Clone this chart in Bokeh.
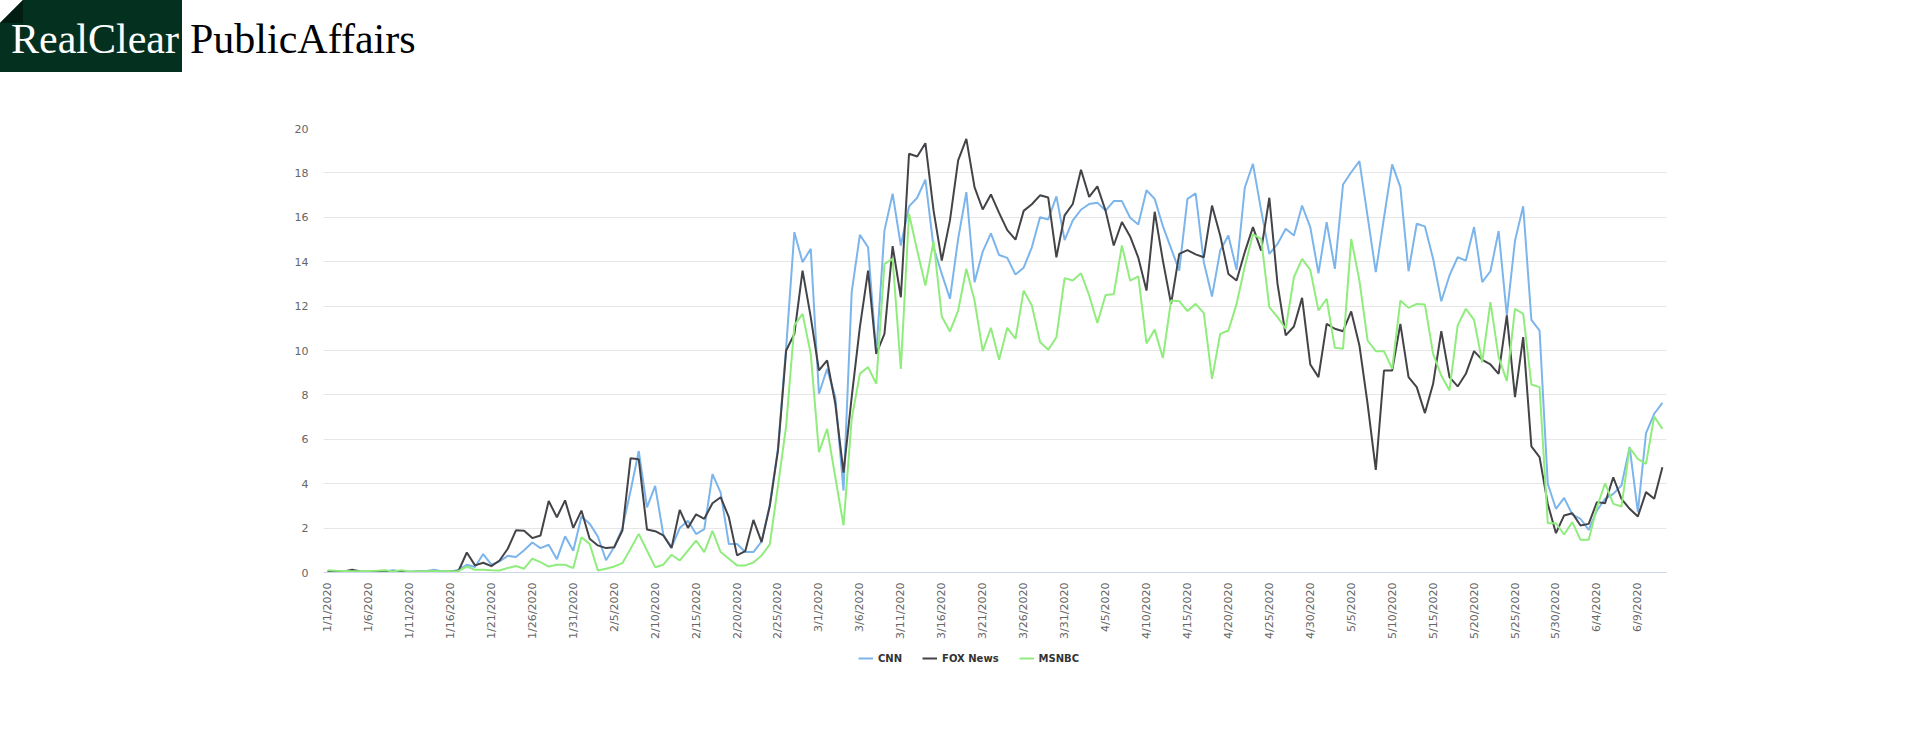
import math
import pandas as pd
from bokeh.plotting import figure
from bokeh.models import ColumnDataSource, Range1d, FixedTicker, Legend, LegendItem, Div
from bokeh.layouts import column
from bokeh.embed import file_html
from bokeh.resources import INLINE

# daily share of coverage, 1/1/2020 .. 6/12/2020
dates = [f"{d.month}/{d.day}/{d.year}" for d in pd.date_range("2020-01-01", "2020-06-12")]

cnn = [0.05, 0.03, 0.03, 0.05, 0.03, 0.04, 0.05, 0.04, 0.1, 0.05, 0.03, 0.05, 0.06, 0.13, 0.05, 0.04, 0.12,
       0.35, 0.25, 0.83, 0.35, 0.5, 0.75, 0.7, 1.0, 1.35, 1.1, 1.25, 0.6, 1.63, 0.98, 2.52, 2.2, 1.62, 0.55,
       1.15, 2.0, 3.68, 5.47, 2.93, 3.9, 1.7, 1.13, 2.0, 2.33, 1.73, 1.95, 4.43, 3.6, 1.28, 1.28, 0.92, 0.92,
       1.4, 3.05,
       5.6, 10.15, 15.33, 13.98, 14.58, 8.05, 9.17, 7.9, 3.69, 12.63, 15.21, 14.65, 9.85, 15.4, 17.06, 14.73,
       16.49, 16.88, 17.7, 14.65, 13.45, 12.33, 15.03, 17.13, 13.08,
       14.45, 15.28, 14.3, 14.17, 13.42, 13.73, 14.65, 16.0, 15.9, 16.94, 14.97, 15.86, 16.34, 16.6, 16.66,
       16.3, 16.73, 16.73, 15.98, 15.68, 17.22, 16.83, 15.6, 14.6, 13.6, 16.83, 17.08, 13.98, 12.43, 14.5,
       15.18, 13.63, 17.33, 18.41, 16.31, 14.35, 14.8,
       15.48, 15.18, 16.53, 15.56, 13.48, 15.78, 13.68, 17.48, 18.03, 18.53, 16.04, 13.53, 15.98, 18.38,
       17.36, 13.57, 15.71, 15.59, 14.13, 12.22, 13.38, 14.2, 14.05, 15.56, 13.08, 13.57, 15.38, 11.58,
       14.95, 16.5, 11.38, 10.9, 3.99, 2.87, 3.36, 2.61, 2.42, 1.92, 2.79, 3.32, 3.54, 3.92, 5.65, 2.72,
       6.28, 7.15, 7.64]

fox = [0.03, 0.02, 0.05, 0.12, 0.05, 0.02, 0.03, 0.03, 0.03, 0.05, 0.02, 0.03, 0.03, 0.04, 0.03, 0.04, 0.08,
       0.9, 0.32, 0.44, 0.29, 0.54, 1.07, 1.9, 1.88, 1.55, 1.67, 3.22, 2.49, 3.25, 2.01, 2.79, 1.52, 1.22,
       1.1, 1.14, 1.89, 5.15, 5.1, 1.94, 1.86, 1.67, 1.1, 2.82, 2.01, 2.62, 2.42, 3.12, 3.39, 2.49, 0.77,
       0.96, 2.37, 1.37, 3.0,
       5.5, 10.0, 10.75, 13.6, 11.5, 9.1, 9.55, 7.6, 4.5, 7.9, 11.05, 13.6, 9.85, 10.75, 14.7, 12.4, 18.86,
       18.74, 19.34, 16.3, 14.05, 15.86, 18.56, 19.53, 17.36,
       16.35, 17.03, 16.2, 15.42, 14.99, 16.29, 16.59, 16.99, 16.89, 14.2, 16.09, 16.6, 18.14, 16.92, 17.39,
       16.3, 14.73, 15.79, 15.14, 14.18, 12.7, 16.25, 14.05, 12.1, 14.35, 14.52, 14.33, 14.2, 16.53, 15.18,
       13.45, 13.15, 14.43, 15.56, 14.5, 16.88, 13.0,
       10.68, 11.08, 12.37, 9.37, 8.8, 11.2, 10.98, 10.87, 11.76, 10.23, 7.6, 4.62, 9.1, 9.1, 11.2, 8.8,
       8.35, 7.18, 8.5, 10.87, 8.8, 8.38, 8.95, 9.97, 9.58, 9.37, 8.95, 11.58, 7.9, 10.6, 5.68, 5.2, 3.09,
       1.77, 2.57, 2.67, 2.12, 2.19, 3.17, 3.12, 4.29, 3.32, 2.87, 2.52, 3.62, 3.32, 4.74]

msnbc = [0.1, 0.08, 0.07, 0.06, 0.06, 0.07, 0.08, 0.1, 0.05, 0.1, 0.05, 0.05, 0.06, 0.07, 0.06, 0.06, 0.07,
         0.27, 0.12, 0.12, 0.1, 0.09, 0.2, 0.29, 0.17, 0.62, 0.47, 0.27, 0.35, 0.35, 0.2, 1.59, 1.29, 0.09,
         0.17, 0.27, 0.42, 1.07, 1.74, 0.99, 0.24, 0.35, 0.8, 0.54, 0.99, 1.44, 0.92, 1.87, 0.92, 0.62, 0.32,
         0.32, 0.45, 0.77, 1.27,
         3.9, 6.62, 11.13, 11.65, 9.85, 5.42, 6.47, 4.29, 2.12, 6.92, 8.95, 9.25, 8.5, 13.9, 14.13, 9.17,
         16.16, 14.5, 12.93, 14.92, 11.53, 10.86, 11.8, 13.68, 12.25,
         9.97, 11.02, 9.58, 11.02, 10.53, 12.7, 12.03, 10.38, 10.03, 10.6, 13.26, 13.15, 13.48, 12.48, 11.24,
         12.5, 12.53, 14.73, 13.15, 13.34, 10.32, 10.94, 9.66, 12.25, 12.22, 11.78, 12.1, 11.68, 8.72, 10.75,
         10.9, 12.1, 13.78, 15.23, 15.03, 11.95, 11.5,
         10.98, 13.3, 14.13, 13.63, 11.8, 12.33, 10.12, 10.08, 15.03, 13.15, 10.45, 9.97, 9.97, 9.17, 12.25,
         11.92, 12.1, 12.07, 9.85, 8.87, 8.2, 11.13, 11.88, 11.38, 9.47, 12.18, 9.7, 8.62, 11.88, 11.65, 8.47,
         8.35, 2.22, 2.22, 1.71, 2.27, 1.47, 1.47, 2.94, 4.02, 3.09, 2.97, 5.62, 5.12, 4.89, 7.03, 6.47]

series_names = ["CNN", "FOX News", "MSNBC"]
series_keys = ["cnn", "fox", "msnbc"]
series_colors = ["#7cb5ec", "#434348", "#90ed7d"]
y_ticks = [0, 2, 4, 6, 8, 10, 12, 14, 16, 18, 20]

source = ColumnDataSource(data=dict(x=list(range(len(dates))), date=dates, cnn=cnn, fox=fox, msnbc=msnbc))

#logo strip above the chart
serif = "font-family:'Liberation Serif',serif;font-size:42px"
logo_html = (
    '<svg width="430" height="72" style="display:block">'
    '<rect x="0" y="0" width="182" height="72" fill="#04311f"/>'
    '<polygon points="0,0 23,0 0,23" fill="#ffffff"/>'
    '<polygon points="23,0 23,23 0,23" fill="#021d12"/>'
    f'<text x="11" y="53" style="{serif}" fill="#ffffff">RealClear</text>'
    f'<text x="190" y="53" style="{serif}" fill="#000000">PublicAffairs</text>'
    '</svg>'
)
logo = Div(text=logo_html, width=1920, height=72, margin=0)

p = figure(frame_width=1343, frame_height=444, x_range=Range1d(-0.5, len(dates) - 0.5), y_range=Range1d(0, 20),
           min_border_left=323, min_border_right=254, min_border_top=56, min_border_bottom=80,
           output_backend="svg", toolbar_location=None, margin=0)
p.outline_line_color = None

for key, color in zip(series_keys, series_colors):
    p.line(x='x', y=key, source=source, line_color=color, line_width=2)

#axes
p.xgrid.grid_line_color = None
p.ygrid.grid_line_color = "#e6e6e6"
p.yaxis.ticker = FixedTicker(ticks=y_ticks)
p.yaxis.axis_line_color = None
p.axis.major_tick_line_color = None
p.axis.minor_tick_line_color = None
p.axis.major_tick_out = 0
p.axis.major_tick_in = 0
p.axis.minor_tick_out = 0
p.yaxis.major_label_standoff = 15
p.xaxis.ticker = FixedTicker(ticks=list(range(0, len(dates), 5)))
p.xaxis.major_label_overrides = {i: dates[i] for i in range(0, len(dates), 5)}
p.xaxis.major_label_orientation = math.pi / 2
p.xaxis.axis_line_color = "#ccd6eb"
p.xaxis.major_label_standoff = 10
p.axis.major_label_text_font = "DejaVu Sans"
p.axis.major_label_text_font_size = "11px"
p.axis.major_label_text_color = "#666666"

#legend strip under the chart, in its own small figure so nothing clips it
#(its lines use the same data but sit far outside its y range)
lg = figure(width=1920, height=40, x_range=Range1d(-0.5, len(dates) - 0.5), y_range=Range1d(100, 140),
            min_border=0, x_axis_location=None, y_axis_location=None,
            output_backend="svg", toolbar_location=None, margin=0)
lg.outline_line_color = None
lg.xgrid.grid_line_color = None
lg.ygrid.grid_line_color = None
items = []
for name, key, color in zip(series_names, series_keys, series_colors):
    r = lg.line(x='x', y=key, source=source, line_color=color, line_width=2)
    items.append(LegendItem(label=name, renderers=[r]))
legend = Legend(items=items, orientation="horizontal", location=(535, 27), padding=0, margin=0,
                spacing=20, glyph_width=15, glyph_height=14, label_height=14, label_standoff=5,
                border_line_color=None, background_fill_alpha=0, label_text_font="DejaVu Sans",
                label_text_font_style="bold", label_text_font_size="10px", label_text_color="#333333")
lg.add_layout(legend)

layout = column(logo, p, lg, spacing=0)
open("out.html", "w").write(file_html(layout, INLINE))
